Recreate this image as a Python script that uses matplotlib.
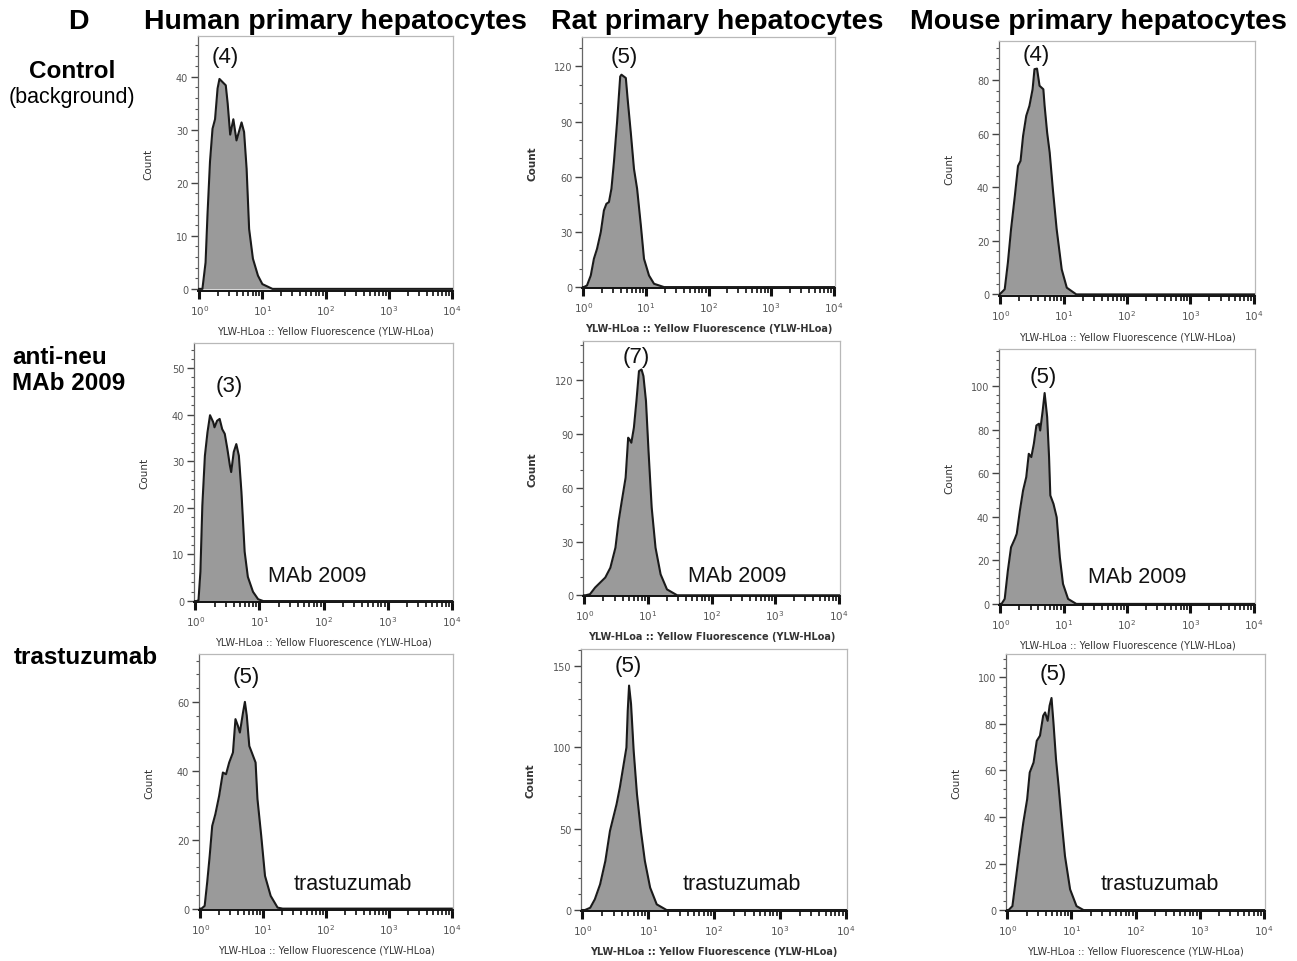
import numpy as np
import matplotlib
matplotlib.use("Agg")
import matplotlib.pyplot as plt
from matplotlib.ticker import LogLocator, MultipleLocator, NullFormatter

# ---------------- data (log10 fluorescence, counts) ----------------
h_ctrl_log10 = [-0.03, 0.05, 0.10, 0.13, 0.17, 0.21, 0.25, 0.29, 0.32, 0.37, 0.42, 0.45, 0.49, 0.54,
                0.59, 0.67, 0.71, 0.75, 0.79, 0.85, 0.93, 1.00, 1.16, 4.02]
h_ctrl_count = [0, 0, 5, 13.9, 24, 30.2, 32, 37.8, 39.6, 39, 38.4, 35, 29.1, 32,
                28, 31.4, 29.6, 22.7, 11.3, 5.7, 2.5, 0.9, 0, 0]

r_ctrl_log10 = [-0.02, 0.01, 0.06, 0.12, 0.17, 0.22, 0.28, 0.33, 0.37, 0.41, 0.45, 0.49, 0.54, 0.59,
                0.61, 0.68, 0.71, 0.76, 0.81, 0.86, 0.92, 0.97, 1.05, 1.13, 1.29, 4.03]
r_ctrl_count = [0, 0, 0.9, 6.3, 15.4, 20.8, 29.9, 41.7, 45.3, 46.2, 53.5, 68, 89.7, 114.5,
                115.5, 113.7, 101.8, 83.7, 64.3, 53.5, 33.5, 15.4, 6.3, 1.8, 0, 0]

m_ctrl_log10 = [-0.03, -0.01, 0.07, 0.12, 0.17, 0.23, 0.28, 0.32, 0.36, 0.41, 0.46, 0.51, 0.54, 0.58,
                0.62, 0.68, 0.70, 0.74, 0.78, 0.83, 0.89, 0.97, 1.05, 1.20, 4.03]
m_ctrl_count = [0, 0, 1.9, 11.8, 24.3, 36.7, 47.9, 49.8, 59.1, 66.6, 70.3, 76.5, 84, 84.2,
                77.8, 76.5, 70.3, 60.3, 52.9, 39.2, 24.3, 9.3, 2.5, 0, 0]

h_mab_log10 = [-0.02, 0.02, 0.05, 0.08, 0.11, 0.15, 0.19, 0.23, 0.28, 0.30, 0.34, 0.38, 0.42, 0.46,
               0.50, 0.54, 0.56, 0.60, 0.64, 0.68, 0.72, 0.77, 0.82, 0.90, 0.98, 1.06, 4.02]
h_mab_count = [0, 0, 0.2, 6.3, 20.5, 31.2, 36.2, 39.9, 38.4, 37.3, 38.7, 39.1, 36.9, 35.9,
               32.7, 29.1, 27.7, 32, 33.7, 31.2, 23.4, 10.6, 5.2, 2, 0.4, 0, 0]

r_mab_log10 = [-0.02, 0.02, 0.09, 0.17, 0.25, 0.33, 0.41, 0.49, 0.54, 0.59, 0.65, 0.69, 0.71, 0.74,
               0.78, 0.82, 0.86, 0.90, 0.93, 0.97, 1.01, 1.06, 1.12, 1.20, 1.30, 1.46, 4.03]
r_mab_count = [0, 0, 0.6, 4.3, 7.1, 9.9, 15.4, 26.6, 41.5, 52.7, 65.7, 88, 87.1, 85.2,
               93.6, 108.5, 125.2, 126.1, 122.4, 108.5, 80.6, 48.9, 26.6, 11.7, 3.3, 0, 0]

m_mab_log10 = [-0.03, 0.02, 0.07, 0.12, 0.17, 0.23, 0.26, 0.31, 0.36, 0.41, 0.45, 0.49, 0.53, 0.57,
               0.61, 0.63, 0.67, 0.70, 0.74, 0.77, 0.79, 0.84, 0.89, 0.94, 0.99, 1.07, 1.20, 4.03]
m_mab_count = [0, 0, 2.3, 15.3, 26, 29.9, 32.2, 42.9, 52.1, 58.2, 68.9, 67.4, 73.5, 81.9,
               82.7, 79.6, 88.8, 96.8, 85.8, 67.4, 49.8, 45.9, 39.8, 21.4, 9.2, 2.3, 0, 0]

h_tras_log10 = [-0.03, 0.02, 0.07, 0.11, 0.15, 0.19, 0.24, 0.30, 0.36, 0.41, 0.46, 0.52, 0.56, 0.60,
                0.63, 0.68, 0.71, 0.74, 0.78, 0.82, 0.88, 0.91, 0.97, 1.03, 1.12, 1.23, 1.31, 4.00]
h_tras_count = [0, 0, 0.8, 7.6, 15.3, 24, 27.4, 32.7, 39.5, 39, 42.4, 45.3, 55, 53,
                51.1, 56.9, 60, 56, 47.2, 45.3, 42.4, 31.8, 21.1, 9.5, 3.7, 0.3, 0, 0]

r_tras_log10 = [-0.02, 0.04, 0.12, 0.19, 0.27, 0.35, 0.42, 0.47, 0.52, 0.57, 0.62, 0.67, 0.69, 0.71,
                0.74, 0.78, 0.83, 0.89, 0.95, 1.03, 1.13, 1.28, 4.02]
r_tras_count = [0, 0, 1.4, 6.6, 15.8, 30.2, 48.7, 56.9, 65.1, 75.4, 87.7, 100, 122.7, 138.1,
                126.8, 98, 71.3, 48.7, 30.2, 13.8, 3.5, 0, 0]

m_tras_log10 = [-0.02, 0.02, 0.08, 0.14, 0.20, 0.25, 0.31, 0.35, 0.41, 0.46, 0.51, 0.56, 0.59, 0.63,
                0.66, 0.69, 0.72, 0.76, 0.80, 0.85, 0.90, 0.98, 1.08, 1.19, 4.03]
m_tras_count = [0, 0, 1.7, 14.6, 27.5, 37.6, 47.6, 59.1, 63.4, 72.7, 74.9, 83.5, 84.9, 81.3,
                87.8, 91.1, 80.6, 64.8, 53.4, 37.6, 23.2, 8.9, 1.7, 0, 0]

mean_labels = ["(4)", "(5)", "(4)", "(3)", "(7)", "(5)", "(5)", "(5)", "(5)"]
column_titles = ["Human primary hepatocytes", "Rat primary hepatocytes", "Mouse primary hepatocytes"]
treatment_tags = [None, "MAb 2009", "trastuzumab"]
x_label = "YLW-HLoa :: Yellow Fluorescence (YLW-HLoa)"
y_label = "Count"

# ---------------- layout ----------------
W, H = 1297, 962
fig = plt.figure(figsize=(W / 100, H / 100), dpi=100)
fig.patch.set_facecolor("white")

SANS = ["Liberation Sans", "DejaVu Sans"]

def fx(x):
    return x / W

def fy(y):
    return 1 - y / H

# (box l,t,r,b px), data, ylim, major, minor, mean-label pos, tag pos
panels = [
    ((198, 37, 453, 292), h_ctrl_log10, h_ctrl_count, (-0.4, 47.7), 10, 2, (225, 58), None),
    ((582, 38, 835, 289), r_ctrl_log10, r_ctrl_count, (-0.5, 136), 30, 10, (624, 57), None),
    ((999, 42, 1255, 297), m_ctrl_log10, m_ctrl_count, (-0.6, 94.5), 20, 4, (1036, 55), None),
    ((194, 344, 453, 603), h_mab_log10, h_mab_count, (-0.2, 55.4), 10, 2, (229, 387), (317, 577)),
    ((583, 342, 840, 597), r_mab_log10, r_mab_count, (-0.4, 142), 30, 10, (636, 357), (737, 577)),
    ((999, 350, 1255, 606), m_mab_log10, m_mab_count, (-0.5, 117), 20, 4, (1043, 377), (1137, 578)),
    ((199, 655, 453, 911), h_tras_log10, h_tras_count, (-0.4, 73.9), 20, 4, (246, 677), (353, 884)),
    ((581, 650, 847, 912), r_tras_log10, r_tras_count, (-0.6, 160.6), 50, 10, (628, 667), (742, 884)),
    ((1006, 655, 1265, 912), m_tras_log10, m_tras_count, (-0.4, 110), 20, 4, (1053, 675), (1160, 884)),
]

for i, (box, lx, cnt, ylim, major, minor, mpos, tpos) in enumerate(panels):
    row, col = divmod(i, 3)
    l, t, r, b = box
    ax = fig.add_axes([fx(l), fy(b), (r - l) / W, (b - t) / H])
    ax.set_xscale("log")
    x = np.power(10.0, np.array(lx))
    y = np.array(cnt, dtype=float)
    ax.fill_between(x, y, 0, color="#9a9a9a", lw=0, zorder=2)
    ax.plot(x, y, color="#1a1a1a", lw=1.5, zorder=3, solid_joinstyle="round")
    ax.set_xlim(10 ** -0.02, 10 ** 4.02)
    ax.set_ylim(*ylim)
    ax.xaxis.set_major_locator(LogLocator(base=10, numticks=10))
    ax.xaxis.set_minor_locator(LogLocator(base=10, subs=np.arange(2, 10), numticks=40))
    ax.xaxis.set_minor_formatter(NullFormatter())
    ax.yaxis.set_major_locator(MultipleLocator(major))
    ax.yaxis.set_minor_locator(MultipleLocator(minor))
    ax.tick_params(axis="x", which="major", length=6, width=2.2, color="#111111",
                   labelsize=7.5, labelcolor="#555555", pad=2.5)
    ax.tick_params(axis="x", which="minor", length=3.5, width=1.2, color="#111111")
    ax.tick_params(axis="y", which="major", length=5, width=1.0, color="#444444",
                   labelsize=7, labelcolor="#555555", pad=2)
    ax.tick_params(axis="y", which="minor", length=2.5, width=0.8, color="#555555")
    for s in ("top", "right"):
        ax.spines[s].set_color("#b8b8b8")
        ax.spines[s].set_linewidth(0.9)
    ax.spines["left"].set_color("#666666")
    ax.spines["left"].set_linewidth(0.9)
    ax.spines["bottom"].set_color("#111111")
    ax.spines["bottom"].set_linewidth(1.4)
    for lab in ax.get_xticklabels() + ax.get_yticklabels():
        lab.set_family("DejaVu Sans")

    wt = "bold" if col == 1 else "normal"
    fig.text(fx((l + r) / 2), fy(b + 40), x_label, ha="center", va="center",
             fontsize=7, color="#333333", fontweight=wt, family="DejaVu Sans")
    fig.text(fx(l - 50), fy((t + b) / 2), y_label, ha="center", va="center", rotation=90,
             fontsize=7.5, color="#333333", fontweight=wt, family="DejaVu Sans")

    fig.text(fx(mpos[0]), fy(mpos[1]), mean_labels[i], ha="center", va="center",
             fontsize=16, color="#111111", family=SANS)
    if tpos is not None:
        fig.text(fx(tpos[0]), fy(tpos[1]), treatment_tags[row], ha="center", va="center",
                 fontsize=15.5, color="#111111", family=SANS)

# ---------------- headers & row labels ----------------
fig.text(fx(78), fy(22), "D", ha="center", va="center", fontsize=20.5, fontweight="bold", family=SANS)
for cx, title in zip([335, 717, 1098], column_titles):
    fig.text(fx(cx), fy(22), title, ha="center", va="center", fontsize=20.5,
             fontweight="bold", family=SANS)

fig.text(fx(72), fy(72), "Control", ha="center", va="center", fontsize=17.5, fontweight="bold", family=SANS)
fig.text(fx(72), fy(98), "(background)", ha="center", va="center", fontsize=15.5, family=SANS)
fig.text(fx(12), fy(357), "anti-neu", ha="left", va="center", fontsize=17.5, fontweight="bold", family=SANS)
fig.text(fx(12), fy(384), "MAb 2009", ha="left", va="center", fontsize=17.5, fontweight="bold", family=SANS)
fig.text(fx(14), fy(657), "trastuzumab", ha="left", va="center", fontsize=17.5, fontweight="bold", family=SANS)

fig.savefig("out.png", dpi=100, facecolor="white")
